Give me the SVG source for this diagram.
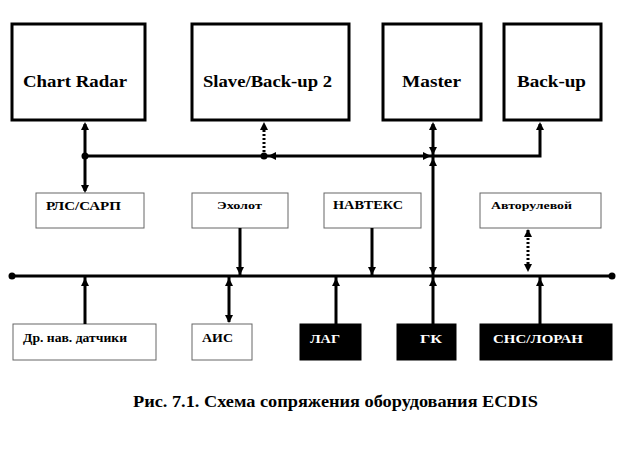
<svg xmlns="http://www.w3.org/2000/svg" width="619" height="456" viewBox="0 0 619 456">
<style>
.big{fill:#fff;stroke:#000;stroke-width:3}
.small{fill:#fff;stroke:#666;stroke-width:1}
.dark{fill:#000;stroke:#000;stroke-width:1}
.t{font-weight:bold;fill:#000}
.w{fill:#fff}
.ln{fill:none;stroke:#000;stroke-width:3}
.dl{fill:none;stroke:#000;stroke-width:3;stroke-dasharray:2 2}
</style>
<defs>
<path id="ah" d="M0,0 L-4,8 L4,8 Z" fill="#000"/>
</defs>
<rect width="619" height="456" fill="#fff"/>
<g font-family="Liberation Serif, DejaVu Serif, Times New Roman, serif">
<g id="chart-radar"><rect class="big" x="12" y="24" width="133" height="96"/><text class="t" x="23" y="87" font-size="17" textLength="104" lengthAdjust="spacingAndGlyphs">Chart Radar</text></g>
<g id="slave"><rect class="big" x="192" y="24" width="157" height="96"/><text class="t" x="203" y="87" font-size="17" textLength="129" lengthAdjust="spacingAndGlyphs">Slave/Back-up 2</text></g>
<g id="master"><rect class="big" x="383" y="24" width="98" height="96"/><text class="t" x="402" y="87" font-size="17" textLength="59" lengthAdjust="spacingAndGlyphs">Master</text></g>
<g id="backup"><rect class="big" x="504" y="24" width="97" height="96"/><text class="t" x="517" y="87" font-size="17" textLength="69" lengthAdjust="spacingAndGlyphs">Back-up</text></g>
<g id="rls"><rect class="small" x="36" y="193" width="108" height="35"/><text class="t" x="46" y="210" font-size="13" textLength="75" lengthAdjust="spacingAndGlyphs">РЛС/САРП</text></g>
<g id="echo"><rect class="small" x="192" y="193" width="96" height="35"/><text class="t" x="217" y="209" font-size="11" textLength="45" lengthAdjust="spacingAndGlyphs">Эхолот</text></g>
<g id="navtex"><rect class="small" x="324" y="193" width="97" height="35"/><text class="t" x="333" y="209" font-size="13" textLength="70" lengthAdjust="spacingAndGlyphs">НАВТЕКС</text></g>
<g id="autopilot"><rect class="small" x="480" y="193" width="121" height="35"/><text class="t" x="491" y="209" font-size="11" textLength="81" lengthAdjust="spacingAndGlyphs">Авторулевой</text></g>
<g id="sensors"><rect class="small" x="13" y="324" width="143" height="36"/><text class="t" x="23" y="342" font-size="12" textLength="104" lengthAdjust="spacingAndGlyphs">Др. нав. датчики</text></g>
<g id="ais"><rect class="small" x="192" y="324" width="60" height="36"/><text class="t" x="202" y="342" font-size="13" textLength="31" lengthAdjust="spacingAndGlyphs">АИС</text></g>
<g id="lag"><rect class="dark" x="300" y="324" width="61" height="36"/><text class="t w" x="310" y="343" font-size="13" textLength="30" lengthAdjust="spacingAndGlyphs">ЛАГ</text></g>
<g id="gk"><rect class="dark" x="397" y="324" width="59" height="36"/><text class="t w" x="420" y="343" font-size="13" textLength="22" lengthAdjust="spacingAndGlyphs">ГК</text></g>
<g id="gnss"><rect class="dark" x="480" y="324" width="132" height="36"/><text class="t w" x="493" y="343" font-size="13" textLength="90" lengthAdjust="spacingAndGlyphs">СНС/ЛОРАН</text></g>
<text id="caption" class="t" x="133" y="407" font-size="16" textLength="405" lengthAdjust="spacingAndGlyphs">Рис. 7.1. Схема сопряжения оборудования ECDIS</text>
</g>
<g id="connectors">
<path class="ln" d="M85,124 V191"/>
<path class="ln" d="M85,156 H540 V124"/>
<path class="dl" d="M264,156 V124"/>
<path class="ln" d="M433,124 V324"/>
<path class="ln" d="M12,276 H612"/>
<path class="ln" d="M240,228 V276"/>
<path class="ln" d="M372,228 V276"/>
<path class="dl" d="M528,230 V270"/>
<path class="ln" d="M85,324 V276"/>
<path class="ln" d="M229,276 V322"/>
<path class="ln" d="M336,324 V276"/>
<path class="ln" d="M540,324 V276"/>
<circle cx="85" cy="156" r="3.5"/>
<circle cx="264" cy="156" r="3.5"/>
<circle cx="12" cy="276" r="3.5"/>
<circle cx="612" cy="276" r="3.5"/>
<use href="#ah" transform="translate(85,122)"/>
<use href="#ah" transform="translate(85,193) rotate(180)"/>
<use href="#ah" transform="translate(264,122)"/>
<use href="#ah" transform="translate(268,156) rotate(-90)"/>
<use href="#ah" transform="translate(540,122)"/>
<use href="#ah" transform="translate(433,122)"/>
<use href="#ah" transform="translate(433,155) rotate(180)"/>
<use href="#ah" transform="translate(431,156) rotate(90)"/>
<use href="#ah" transform="translate(433,158)"/>
<use href="#ah" transform="translate(433,275) rotate(180)"/>
<use href="#ah" transform="translate(433,278)"/>
<use href="#ah" transform="translate(240,275) rotate(180)"/>
<use href="#ah" transform="translate(372,275) rotate(180)"/>
<use href="#ah" transform="translate(528,229)"/>
<use href="#ah" transform="translate(528,272) rotate(180)"/>
<use href="#ah" transform="translate(85,278)"/>
<use href="#ah" transform="translate(229,278)"/>
<use href="#ah" transform="translate(229,323) rotate(180)"/>
<use href="#ah" transform="translate(336,278)"/>
<use href="#ah" transform="translate(540,278)"/>
</g>
</svg>
